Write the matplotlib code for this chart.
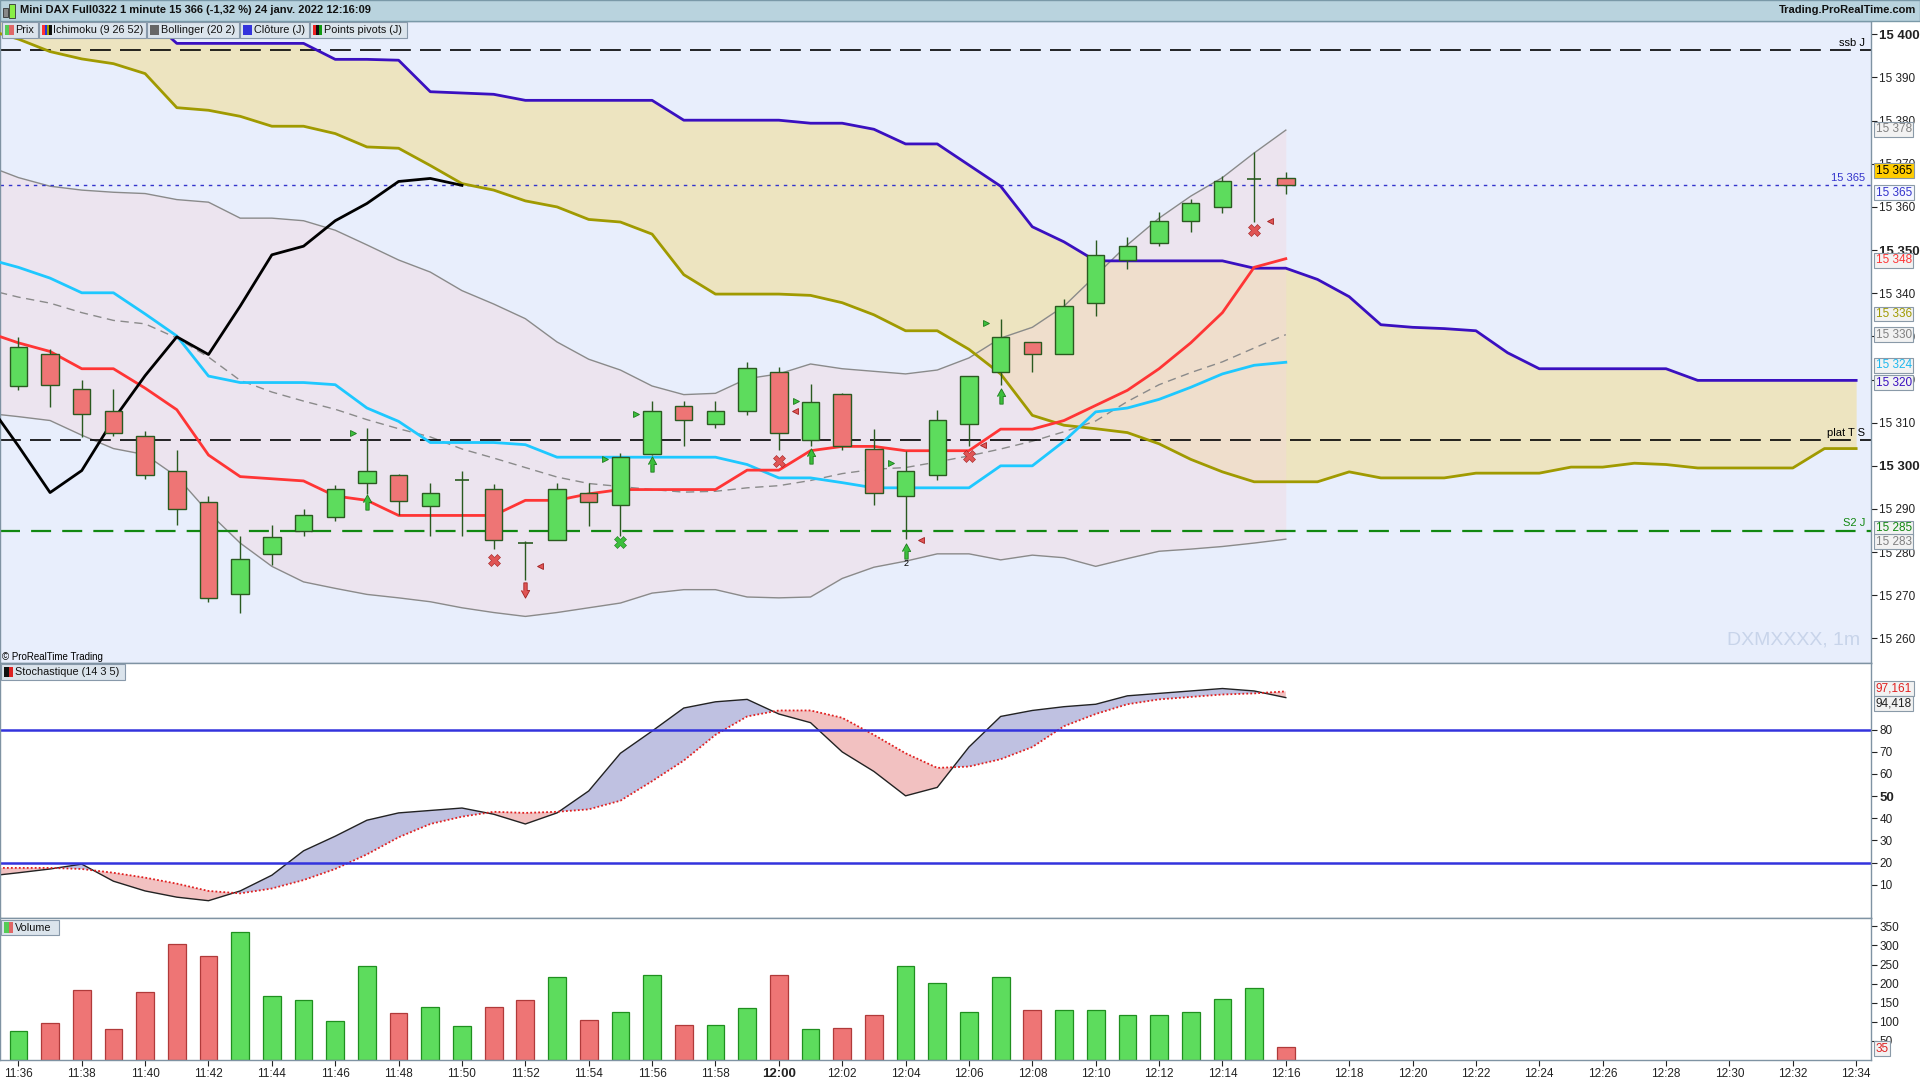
import numpy as np
import matplotlib.pyplot as plt
from matplotlib.patches import Rectangle

plt.rcParams['font.family'] = ['Liberation Sans', 'DejaVu Sans']

# ---- données : 1 bougie / minute, 11:36 -> 12:16 ----
minutes = np.arange(0, 41)
opens = [15318.5, 15325.9, 15317.9, 15312.8, 15306.8, 15298.9, 15291.5, 15270.2, 15279.6, 15285.0,
         15288.1, 15296.0, 15297.8, 15290.6, 15296.8, 15294.6, 15282.1, 15282.7, 15293.8, 15290.9,
         15302.8, 15313.8, 15309.8, 15312.8, 15321.8, 15305.9, 15316.7, 15303.8, 15292.9, 15297.8,
         15309.8, 15321.8, 15328.8, 15325.8, 15337.8, 15347.7, 15351.7, 15356.8, 15360.0, 15366.4,
         15366.8]
highs = [15329.9, 15327.0, 15319.9, 15317.9, 15308.0, 15303.7, 15292.9, 15283.8, 15286.4, 15290.1,
         15295.5, 15308.8, 15298.0, 15296.0, 15298.9, 15295.8, 15282.5, 15296.0, 15296.0, 15302.9,
         15315.0, 15315.0, 15315.0, 15324.0, 15322.9, 15318.9, 15316.9, 15308.5, 15303.4, 15312.9,
         15320.9, 15334.0, 15328.8, 15338.7, 15352.3, 15353.1, 15358.8, 15361.9, 15367.1, 15372.7,
         15368.0]
lows = [15317.6, 15313.7, 15306.6, 15307.0, 15297.0, 15286.4, 15268.5, 15265.9, 15277.0, 15283.8,
        15287.3, 15293.5, 15288.7, 15283.8, 15283.8, 15280.7, 15273.6, 15282.7, 15286.0, 15283.8,
        15302.5, 15304.6, 15308.7, 15311.8, 15303.6, 15304.6, 15303.6, 15291.0, 15283.0, 15296.6,
        15304.6, 15318.7, 15321.8, 15325.8, 15334.7, 15345.5, 15350.9, 15354.3, 15358.5, 15356.5,
        15363.0]
closes = [15327.6, 15318.8, 15312.0, 15307.7, 15297.8, 15290.1, 15269.4, 15278.4, 15283.5, 15288.7,
          15294.6, 15298.9, 15291.8, 15293.8, 15297.0, 15282.7, 15281.9, 15294.6, 15291.5, 15302.0,
          15312.8, 15310.7, 15312.8, 15322.7, 15307.6, 15314.9, 15304.6, 15293.8, 15298.9, 15310.7,
          15320.9, 15329.9, 15325.8, 15337.0, 15348.9, 15350.9, 15356.8, 15360.8, 15365.9, 15366.6,
          15365.0]
volumes = [77, 98, 183, 80, 177, 304, 272, 335, 169, 157, 103, 245, 122, 140, 88, 138, 157, 217, 106, 125,
           222, 91, 91, 135, 222, 82, 85, 117, 245, 201, 127, 217, 132, 132, 130, 119, 117, 127, 161, 188, 35]

# indicateurs, de la minute -1 à 40
t_ind = np.arange(-1, 41)
tenkan = [15331.0, 15328.5, 15326.5, 15322.5, 15322.5, 15318.0, 15313.0, 15302.5, 15297.5, 15297.0,
          15296.5, 15293.0, 15292.0, 15288.5, 15288.5, 15288.5, 15288.5, 15292.0, 15292.0, 15293.5,
          15294.5, 15294.5, 15294.5, 15294.5, 15299.0, 15299.0, 15303.5, 15304.5, 15304.5, 15303.5,
          15303.5, 15303.5, 15308.5, 15308.5, 15310.5, 15314.0, 15317.5, 15322.5, 15328.5, 15335.5,
          15346.0, 15348.0]
kijun = [15348.0, 15346.0, 15343.5, 15340.1, 15340.1, 15335.2, 15330.1, 15320.8, 15319.3, 15319.3,
         15319.3, 15318.8, 15313.4, 15310.3, 15305.4, 15305.4, 15305.4, 15304.9, 15302.0, 15302.0,
         15302.0, 15302.0, 15302.0, 15302.0, 15300.3, 15297.2, 15297.2, 15296.1, 15294.9, 15294.9,
         15294.9, 15294.9, 15300.0, 15300.0, 15305.7, 15312.5, 15313.4, 15315.4, 15318.2, 15321.3,
         15323.3, 15324.0]
boll_up = [15369.6, 15366.8, 15364.8, 15363.9, 15363.4, 15363.1, 15361.7, 15361.1, 15357.4, 15357.4,
           15356.8, 15354.6, 15351.2, 15347.7, 15344.9, 15340.6, 15337.5, 15334.1, 15328.7, 15324.7,
           15322.2, 15318.5, 15316.5, 15316.8, 15320.2, 15321.3, 15323.6, 15322.5, 15321.9, 15321.3,
           15322.2, 15325.0, 15329.6, 15332.1, 15337.0, 15344.1, 15351.2, 15357.4, 15362.5, 15366.8,
           15372.5, 15377.8]
boll_mid = [15340.9, 15339.1, 15337.7, 15335.5, 15333.7, 15332.9, 15329.6, 15325.2, 15319.8, 15317.1,
            15315.0, 15313.1, 15310.7, 15308.6, 15306.7, 15303.9, 15301.8, 15299.6, 15297.4, 15295.9,
            15295.2, 15294.5, 15293.9, 15294.1, 15294.9, 15295.4, 15296.6, 15298.2, 15299.2, 15299.6,
            15300.9, 15302.3, 15303.9, 15305.7, 15307.9, 15310.4, 15314.9, 15318.8, 15321.6, 15324.1,
            15327.3, 15330.4]
boll_low = [15312.2, 15311.4, 15310.5, 15307.1, 15304.0, 15302.6, 15297.5, 15289.2, 15282.1, 15276.7,
            15273.1, 15271.6, 15270.2, 15269.4, 15268.5, 15267.1, 15266.0, 15265.1, 15266.0, 15267.1,
            15268.2, 15270.5, 15271.3, 15271.3, 15269.6, 15269.4, 15269.6, 15273.9, 15276.5, 15277.9,
            15279.6, 15279.6, 15278.2, 15279.3, 15278.7, 15276.7, 15278.5, 15280.2, 15280.7, 15281.3,
            15282.1, 15283.0]
stoch_k = [13.8, 15.4, 17.1, 19.3, 11.6, 7.2, 4.4, 2.8, 7.2, 14.3, 25.3, 31.9, 39.1, 42.4, 43.5, 44.6,
           41.8, 37.4, 42.4, 52.3, 69.3, 79.3, 89.7, 92.5, 93.6, 87.0, 83.1, 69.9, 61.1, 50.1, 53.9,
           72.1, 85.9, 88.6, 90.3, 91.4, 95.2, 96.3, 97.4, 98.5, 97.4, 94.4]
stoch_d = [17.6, 17.6, 17.6, 17.1, 15.4, 13.2, 10.5, 7.2, 6.1, 8.3, 12.1, 17.1, 23.7, 31.4, 37.4, 40.7,
           42.9, 42.4, 42.9, 44.0, 47.9, 56.7, 66.0, 77.6, 85.9, 88.6, 88.6, 85.3, 77.6, 69.3, 62.7,
           63.3, 66.6, 72.1, 81.5, 87.0, 91.4, 93.6, 94.7, 95.8, 96.3, 97.2]

# nuage ichimoku, de la minute -1 à 58
t_cloud = np.arange(-1, 59)
ssa = [15408.0, 15408.0, 15407.5, 15407.0, 15406.5, 15404.5, 15397.9, 15397.9, 15397.9, 15397.9,
       15397.9, 15394.2, 15394.2, 15394.0, 15386.7, 15386.4, 15386.1, 15384.7, 15384.7, 15384.7,
       15384.7, 15384.7, 15380.1, 15380.1, 15380.1, 15380.1, 15379.4, 15379.4, 15378.0, 15374.6,
       15374.6, 15369.7, 15364.8, 15355.4, 15351.9, 15347.5, 15347.5, 15347.5, 15347.5, 15347.5,
       15345.8, 15345.8, 15343.2, 15339.2, 15332.7, 15332.1, 15331.8, 15331.3, 15326.2, 15322.5,
       15322.5, 15322.5, 15322.5, 15322.5, 15319.8, 15319.8, 15319.8, 15319.8, 15319.8, 15319.8]
ssb = [15401.1, 15398.9, 15396.0, 15394.3, 15393.2, 15390.9, 15383.0, 15382.4, 15381.0, 15378.7,
       15378.7, 15377.0, 15373.9, 15373.6, 15369.6, 15365.4, 15363.9, 15361.4, 15360.0, 15357.1,
       15356.5, 15353.7, 15344.3, 15339.8, 15339.8, 15339.8, 15339.5, 15337.8, 15335.0, 15331.3,
       15331.3, 15327.0, 15321.3, 15311.7, 15309.4, 15308.6, 15307.7, 15305.1, 15301.5, 15298.6,
       15296.3, 15296.3, 15296.3, 15298.6, 15297.2, 15297.2, 15297.2, 15298.3, 15298.3, 15298.3,
       15299.7, 15299.7, 15300.6, 15300.3, 15299.5, 15299.5, 15299.5, 15299.5, 15304.0, 15304.0]

# niveaux (J)
ssb_j = 15396.3
cloture_j = 15365
plat_ts = 15306
s2_j = 15285

# signaux
up_x = [11, 20, 25, 28, 31]
up_y = [15291.5, 15300.4, 15302.3, 15280.2, 15316.2]
down_x = [16]
down_y = [15271.3]
xg_x = [19]
xg_y = [15282.4]
xr_x = [15, 24, 30, 39]
xr_y = [15278.2, 15301.2, 15302.3, 15354.6]
trig_x = [10.55, 18.5, 19.5, 24.55, 27.55, 30.55]
trig_y = [15307.7, 15301.5, 15312.0, 15315.1, 15300.6, 15333.0]
trir_x = [16.45, 24.5, 28.5, 30.45, 39.5]
trir_y = [15276.7, 15312.8, 15282.7, 15304.9, 15356.8]

time_labels = ['11:36', '11:38', '11:40', '11:42', '11:44', '11:46', '11:48', '11:50', '11:52', '11:54',
               '11:56', '11:58', '12:00', '12:02', '12:04', '12:06', '12:08', '12:10', '12:12', '12:14',
               '12:16', '12:18', '12:20', '12:22', '12:24', '12:26', '12:28', '12:30', '12:32', '12:34']

GREEN = '#5ddc5d'
RED = '#ee7575'
EDGE = '#2a5a20'
SPINE = '#7f93a3'

fig = plt.figure(figsize=(19.2, 10.8), dpi=100, facecolor='white')
X0, X1 = -0.58, 58.47
AXW = 0.9745
ax_p = fig.add_axes([0.0, 0.3861, AXW, 0.5945])
ax_s = fig.add_axes([0.0, 0.1500, AXW, 0.2361])
ax_v = fig.add_axes([0.0, 0.0185, AXW, 0.1315])

for ax in (ax_p, ax_s, ax_v):
    ax.set_xlim(X0, X1)
    for sp in ax.spines.values():
        sp.set_color(SPINE)
        sp.set_linewidth(1)
    ax.tick_params(axis='y', right=True, left=False, labelright=True, labelleft=False,
                   direction='out', length=4, width=0.8, colors='#222222', labelsize=8.5, pad=2)
    ax.tick_params(axis='x', bottom=False, labelbottom=False)

# ---------------- prix ----------------
ax_p.set_facecolor('#e8eefc')
ax_p.set_ylim(15254.3, 15403.1)

ax_p.fill_between(t_cloud, ssa, ssb, color='#ede4c0', lw=0, zorder=1)
ax_p.fill_between(t_ind, boll_up, boll_low, color='#f2d8de', alpha=0.42, lw=0, zorder=1.2)
ax_p.plot(t_ind, boll_up, color='#8a8a8a', lw=1, zorder=2)
ax_p.plot(t_ind, boll_low, color='#8a8a8a', lw=1, zorder=2)
ax_p.plot(t_ind, boll_mid, color='#8a8a8a', lw=1, ls=(0, (6, 4)), zorder=2)

ax_p.plot(t_cloud, ssa, color='#3a10c0', lw=2, zorder=3)
ax_p.plot(t_cloud, ssb, color='#a09a00', lw=2, zorder=3)
ax_p.plot(t_ind, kijun, color='#1ec8ff', lw=2, zorder=3)
ax_p.plot(t_ind, tenkan, color='#ff3535', lw=2, zorder=3)
ax_p.plot(np.arange(-1, 15), closes[25:41], color='black', lw=2, zorder=3)

ax_p.axhline(ssb_j, color='black', lw=1.2, ls=(0, (12.5, 5.5)), zorder=2.5)
ax_p.axhline(cloture_j, color='#3333cc', lw=1, ls=(0, (2.5, 3.5)), zorder=2.5)
ax_p.axhline(plat_ts, color='black', lw=1.2, ls=(0, (12.5, 5.5)), zorder=2.5)
ax_p.axhline(s2_j, color='#118811', lw=1.6, ls=(0, (9, 5)), zorder=2.5)
for val, txt, col in [(ssb_j, 'ssb J', 'black'), (cloture_j, '15 365', '#3333cc'),
                      (plat_ts, 'plat T S', 'black'), (s2_j, 'S2 J', '#118811')]:
    ax_p.annotate(txt, xy=(0.997, val), xycoords=('axes fraction', 'data'), xytext=(0, 1.5),
                  textcoords='offset points', ha='right', va='bottom', fontsize=8, color=col)

# bougies
w = 0.55
for i in minutes:
    o, h, l, c = opens[i], highs[i], lows[i], closes[i]
    ax_p.vlines(i, l, h, color=EDGE, lw=1, zorder=4)
    if abs(c - o) < 0.3:
        ax_p.hlines(o, i - w / 2.4, i + w / 2.4, color=EDGE, lw=1.2, zorder=5)
    else:
        ax_p.add_patch(Rectangle((i - w / 2, min(o, c)), w, abs(c - o), facecolor=GREEN if c > o else RED,
                                 edgecolor=EDGE, lw=1, zorder=5))

arrow_up = [(-0.55, 0), (0, 1), (0.55, 0), (0.22, 0), (0.22, -1), (-0.22, -1), (-0.22, 0)]
arrow_dn = [(x, -y) for x, y in arrow_up]
ax_p.plot(up_x, up_y, ls='none', marker=arrow_up, ms=11, mfc='#3cbf3c', mec='#1d7a1d', mew=0.6, zorder=6)
ax_p.plot(down_x, down_y, ls='none', marker=arrow_dn, ms=11, mfc='#e05555', mec='#a02020', mew=0.6, zorder=6)
ax_p.plot(xg_x, xg_y, ls='none', marker='X', ms=8, mfc='#3cbf3c', mec='#1d7a1d', mew=0.4, zorder=6)
ax_p.plot(xr_x, xr_y, ls='none', marker='X', ms=8, mfc='#e05555', mec='#a02020', mew=0.4, zorder=6)
ax_p.plot(trig_x, trig_y, ls='none', marker='>', ms=5, mfc='#3cbf3c', mec='#1d7a1d', mew=0.6, zorder=6)
ax_p.plot(trir_x, trir_y, ls='none', marker='<', ms=5, mfc='#e05555', mec='#a02020', mew=0.6, zorder=6)
ax_p.text(28, 15277.3, '2', fontsize=6.5, ha='center', va='center', zorder=6)

price_ticks = list(range(15260, 15401, 10))
ax_p.set_yticks(price_ticks)
ax_p.set_yticklabels([f"{v // 1000} {v % 1000:03d}" for v in price_ticks])
for lab, v in zip(ax_p.get_yticklabels(), price_ticks):
    if v % 50 == 0:
        lab.set_fontweight('bold')
        lab.set_fontsize(9.5)

price_boxes = [(15368.4, '15 365', 'black', '#ffcc00'), (15363.3, '15 365', '#3333cc', '#f4f6ff'),
               (15378.0, '15 378', '#808080', '#f2f2f2'), (15347.6, '15 348', '#ff3535', '#f2f2f2'),
               (15335.2, '15 336', '#a09a00', '#f2f2f2'), (15330.4, '15 330', '#808080', '#f2f2f2'),
               (15323.3, '15 324', '#1eb8ee', '#f2f2f2'), (15319.3, '15 320', '#3a10c0', '#f2f2f2'),
               (15285.5, '15 285', '#118811', '#f2f2f2'), (15282.4, '15 283', '#808080', '#f2f2f2')]
for val, txt, col, bg in price_boxes:
    ax_p.annotate(txt, xy=(1, val), xycoords=('axes fraction', 'data'), xytext=(3.5, 0),
                  textcoords='offset points', ha='left', va='center', fontsize=8.5, color=col, zorder=10,
                  annotation_clip=False,
                  bbox=dict(boxstyle='square,pad=0.12', fc=bg, ec='#8a9aa8', lw=0.8))

ax_p.text(0.994, 0.036, 'DXMXXXX, 1m', transform=ax_p.transAxes, ha='right', va='center',
          fontsize=14, color='#c8d4ea')
ax_p.text(0.0013, 0.002, '\u00a9 ProRealTime Trading', transform=ax_p.transAxes, ha='left', va='bottom',
          fontsize=7, color='black')

# ---------------- stochastique ----------------
ax_s.set_facecolor('white')
ax_s.set_ylim(-5, 110)
k = np.array(stoch_k)
d = np.array(stoch_d)
ax_s.fill_between(t_ind, k, d, where=k >= d, interpolate=True, color='#bfc1e1', lw=0)
ax_s.fill_between(t_ind, k, d, where=k < d, interpolate=True, color='#f2c1c1', lw=0)
ax_s.plot(t_ind, k, color='#222222', lw=1)
ax_s.plot(t_ind, d, color='#e02020', lw=1.3, ls=(0, (1, 1.2)))
ax_s.axhline(80, color='#3333dd', lw=1.8)
ax_s.axhline(20, color='#3333dd', lw=1.8)
stoch_ticks = [10, 20, 30, 40, 50, 60, 70, 80]
ax_s.set_yticks(stoch_ticks)
ax_s.set_yticklabels([str(v) for v in stoch_ticks])
for lab, v in zip(ax_s.get_yticklabels(), stoch_ticks):
    if v == 50:
        lab.set_fontweight('bold')
        lab.set_fontsize(9.5)
for val, txt, col in [(98.5, '97,161', '#e02020'), (91.9, '94,418', '#222222')]:
    ax_s.annotate(txt, xy=(1, val), xycoords=('axes fraction', 'data'), xytext=(3.5, 0),
                  textcoords='offset points', ha='left', va='center', fontsize=8.5, color=col,
                  annotation_clip=False, bbox=dict(boxstyle='square,pad=0.12', fc='#f2f2f2', ec='#8a9aa8', lw=0.8))

# ---------------- volume ----------------
ax_v.set_facecolor('white')
ax_v.set_ylim(0, 372)
vcols = [GREEN if closes[i] >= opens[i] else RED for i in minutes]
vedges = ['#1f8f1f' if closes[i] >= opens[i] else '#b03a3a' for i in minutes]
ax_v.bar(minutes, volumes, width=0.56, color=vcols, edgecolor=vedges, lw=0.9)
vol_ticks = [50, 100, 150, 200, 250, 300, 350]
ax_v.set_yticks(vol_ticks)
ax_v.set_yticklabels([str(v) for v in vol_ticks])
ax_v.annotate('35', xy=(1, 30), xycoords=('axes fraction', 'data'), xytext=(3.5, 0),
              textcoords='offset points', ha='left', va='center', fontsize=8.5, color='#e02020',
              annotation_clip=False, bbox=dict(boxstyle='square,pad=0.12', fc='#f2f2f2', ec='#8a9aa8', lw=0.8))

ax_v.set_xticks(np.arange(0, 59, 2))
ax_v.set_xticklabels(time_labels)
ax_v.tick_params(axis='x', bottom=True, labelbottom=True, direction='out', length=4, width=0.8,
                 colors='#222222', labelsize=8.5, pad=2)
for lab in ax_v.get_xticklabels():
    if lab.get_text() == '12:00':
        lab.set_fontweight('bold')
        lab.set_fontsize(9.5)

# ---------------- barre de titre et légendes ----------------
fig.patches.append(Rectangle((0, 0.9806), 1, 0.0194, transform=fig.transFigure,
                             facecolor='#b9d3de', edgecolor='#7a99a8', lw=1, zorder=0))
fig.patches.append(Rectangle((0.0016, 0.9845), 0.0025, 0.008, transform=fig.transFigure,
                             facecolor='#888888', edgecolor='#333333', lw=0.6))
fig.patches.append(Rectangle((0.0048, 0.9835), 0.0028, 0.013, transform=fig.transFigure,
                             facecolor='#88ee44', edgecolor='#333333', lw=0.6))
fig.text(0.0105, 0.9903, 'Mini DAX Full0322 1 minute 15 366 (-1,32 %) 24 janv. 2022 12:16:09',
         fontsize=8, fontweight='bold', va='center', ha='left', color='#111111')
fig.text(0.998, 0.9903, 'Trading.ProRealTime.com', fontsize=8, fontweight='bold', va='center',
         ha='right', color='#111111')


def legend_box(x0, x1, y0, y1, label, icon_colors):
    fig.patches.append(Rectangle((x0, y0), x1 - x0, y1 - y0, transform=fig.transFigure,
                                 facecolor='#dbe4ec', edgecolor='#8899aa', lw=0.8, zorder=5))
    iw = 0.0048 / len(icon_colors)
    for j, c in enumerate(icon_colors):
        fig.patches.append(Rectangle((x0 + 0.0016 + j * iw, y0 + 0.0025), iw, y1 - y0 - 0.005,
                                     transform=fig.transFigure, facecolor=c, edgecolor='none', zorder=6))
    fig.text(x0 + 0.0072, (y0 + y1) / 2, label, fontsize=7.8, va='center', ha='left', color='#111111', zorder=7)


ly0, ly1 = 0.9648, 0.9796
legend_box(0.0009, 0.0200, ly0, ly1, 'Prix', ['#55cc55', '#e06666'])
legend_box(0.0205, 0.0759, ly0, ly1, 'Ichimoku (9 26 52)', ['#ff3333', '#2233dd', '#a09a00', '#111111'])
legend_box(0.0764, 0.1245, ly0, ly1, 'Bollinger (20 2)', ['#666666'])
legend_box(0.1250, 0.1610, ly0, ly1, 'Cl\u00f4ture (J)', ['#3333dd'])
legend_box(0.1615, 0.2118, ly0, ly1, 'Points pivots (J)', ['#ee2222', '#111111', '#119911'])
legend_box(0.0006, 0.0650, 0.3704, 0.3852, 'Stochastique (14 3 5)', ['#111111', '#dd2222'])
legend_box(0.0006, 0.0307, 0.1338, 0.1485, 'Volume', ['#55cc55', '#e06666'])

fig.savefig('out.png', dpi=100, facecolor='white')
